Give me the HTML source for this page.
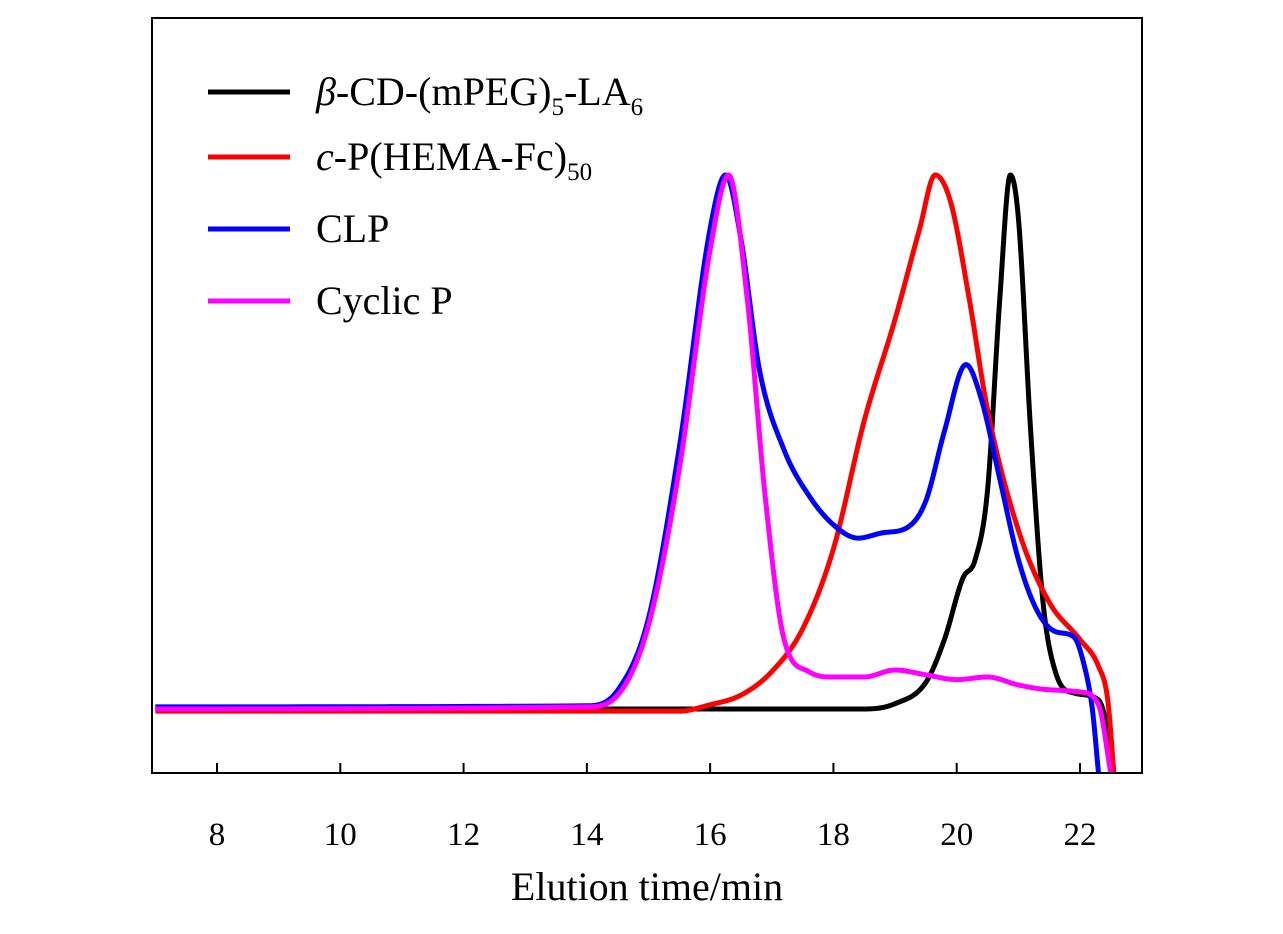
<!DOCTYPE html>
<html><head><meta charset="utf-8"><style>
body{margin:0;background:#fff;}
svg{display:block;font-family:"Liberation Serif",serif;}
</style></head><body>
<svg id="chart" width="1283" height="934">
<g id="plot"></g>
</svg>
<script>
const xTicks=[8,10,12,14,16,18,20,22];
const blackT=[7,18.5,19,19.5,19.8,20.1,20.3,20.5,20.7,20.87,21.0,21.2,21.4,21.6,21.9,22.3,22.45,22.55];
const blackV=[0,0,0.01,0.05,0.13,0.245,0.28,0.41,0.77,1.0,0.92,0.52,0.2,0.07,0.03,0.017,-0.04,-0.12];
const redT=[7,15.5,16,16.5,17,17.5,18,18.5,19,19.4,19.65,19.9,20.2,20.5,21,21.5,22,22.3,22.45,22.55];
const redV=[-0.004,-0.004,0.008,0.026,0.07,0.15,0.3,0.54,0.73,0.9,1.0,0.95,0.77,0.56,0.335,0.2,0.13,0.08,0.017,-0.12];
const blueT=[7,14,14.5,15,15.5,16,16.25,16.5,16.8,17.2,17.6,18,18.4,18.8,19.2,19.5,19.8,20.15,20.4,20.7,21,21.3,21.6,21.9,22.05,22.2,22.3];
const blueV=[0.004,0.006,0.035,0.17,0.49,0.9,1.0,0.88,0.635,0.485,0.4,0.345,0.32,0.33,0.34,0.39,0.52,0.645,0.58,0.43,0.28,0.185,0.145,0.135,0.09,0.0,-0.12];
const magT=[7,14,14.5,15,15.5,16,16.3,16.6,16.9,17.2,17.6,18,18.5,19,19.5,20,20.5,21,21.5,22,22.3,22.5];
const magV=[0,0.004,0.026,0.157,0.45,0.86,1.0,0.77,0.39,0.13,0.07,0.06,0.06,0.073,0.064,0.055,0.06,0.045,0.036,0.032,0.008,-0.12];

const NS="http://www.w3.org/2000/svg";
const L=152,R=1142,T=18,B=773;
const X=t=>217+(t-8)*(1080-217)/14;
const Y=v=>709-v*534;
const svg=document.getElementById('chart');
const plot=document.getElementById('plot');
function mk(tag,attrs,parent){const e=document.createElementNS(NS,tag);for(const k in attrs)e.setAttribute(k,attrs[k]);(parent||svg).appendChild(e);return e;}
const defs=mk('defs',{});
const cp=mk('clipPath',{id:'clip'},defs);mk('rect',{x:L,y:T,width:R-L,height:B-T},cp);
function path(xs,ys){
  const n=xs.length,d=[],m=new Array(n);
  for(let i=0;i<n-1;i++)d.push((ys[i+1]-ys[i])/(xs[i+1]-xs[i]));
  m[0]=d[0];m[n-1]=d[n-2];
  for(let i=1;i<n-1;i++){m[i]=(d[i-1]*d[i]<=0)?0:(d[i-1]+d[i])/2;}
  for(let i=0;i<n-1;i++){if(d[i]===0){m[i]=0;m[i+1]=0;continue;}
    const a=m[i]/d[i],b=m[i+1]/d[i],s=a*a+b*b;if(s>9){const t=3/Math.sqrt(s);m[i]=t*a*d[i];m[i+1]=t*b*d[i];}}
  let p=`M${X(xs[0])},${Y(ys[0])}`;
  for(let i=0;i<n-1;i++){const h=xs[i+1]-xs[i];
    for(let k=1;k<=20;k++){const u=k/20,u2=u*u,u3=u2*u;
      const y=(2*u3-3*u2+1)*ys[i]+(u3-2*u2+u)*h*m[i]+(-2*u3+3*u2)*ys[i+1]+(u3-u2)*h*m[i+1];
      p+=` L${X(xs[i]+u*h).toFixed(2)},${Y(y).toFixed(2)}`;}}
  return p;}
const series=[[blackT,blackV,'#000','series-beta-cd'],[redT,redV,'#f00','series-c-p-hema-fc'],[blueT,blueV,'#00f','series-clp'],[magT,magV,'#f0f','series-cyclic-p']];
series.forEach(s=>{const e=mk('path',{d:path(s[0],s[1]),fill:'none',stroke:s[2],'stroke-width':5,'stroke-linejoin':'round','clip-path':'url(#clip)'},plot);

});
const frame=mk('rect',{x:L,y:T,width:R-L,height:B-T,fill:'none',stroke:'#000','stroke-width':2});


xTicks.forEach(t=>{const tk=mk('line',{x1:X(t),x2:X(t),y1:B,y2:B-10,stroke:'#000','stroke-width':2});


const tx=mk('text',{x:X(t),y:845,'text-anchor':'middle','font-size':33});tx.textContent=t;

});
const xt=mk('text',{x:647,y:900,'text-anchor':'middle','font-size':40});xt.textContent='Elution time/min';


const legY=[92,157,229,301];
const legHTML=['<tspan font-style="italic">β</tspan>-CD-(mPEG)<tspan font-size="25" dy="10">5</tspan><tspan dy="-10">-LA</tspan><tspan font-size="25" dy="10">6</tspan>',
'<tspan font-style="italic">c</tspan>-P(HEMA-Fc)<tspan font-size="25" dy="10">50</tspan>','CLP','Cyclic P'];
series.forEach((s,i)=>{const ln=mk('line',{x1:208,x2:290,y1:legY[i],y2:legY[i],stroke:s[2],'stroke-width':5});


const tx=mk('text',{x:316,y:legY[i]+13,'font-size':40});tx.innerHTML=legHTML[i];

});
</script>
</body></html>
